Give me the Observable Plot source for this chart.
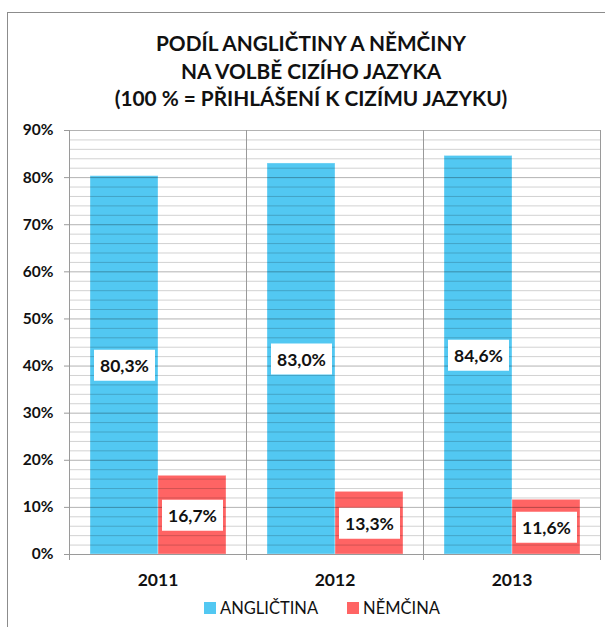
<!DOCTYPE html>
<html>
<head>
<meta charset="utf-8">
<script src="https://cdn.jsdelivr.net/npm/d3@7"></script>
<script src="https://cdn.jsdelivr.net/npm/@observablehq/plot@0.6"></script>
<style>
  html, body { margin: 0; padding: 0; background: #fff; }
  #wrap { position: relative; width: 605px; height: 627px; overflow: hidden; font-family: Lato, "Open Sans", sans-serif; }
  #frame { position: absolute; left: 7px; top: 12px; width: 640px; height: 660px; border: 1px solid #8c8c8c; box-sizing: border-box; }
  #title { position: absolute; left: 7px; top: 29px; width: 608px; text-align: center; font-weight: bold; font-size: 20.8px; line-height: 27.5px; color: #111; }
  #chart { position: absolute; left: 0; top: 118px; }
  #legend { position: absolute; left: 204px; top: 598px; display: flex; font-size: 16.5px; color: #111; }
  .item { display: flex; align-items: center; margin-right: 29px; }
  .sw { width: 12px; height: 12px; margin-right: 4px; }
</style>
</head>
<body>
<div id="wrap">
  <div id="frame"></div>
  <div id="title">PODÍL ANGLIČTINY A NĚMČINY<br>NA VOLBĚ CIZÍHO JAZYKA<br>(100 % = PŘIHLÁŠENÍ K CIZÍMU JAZYKU)</div>
  <div id="chart"></div>
  <div id="legend"></div>
</div>
<script>
const years = ["2011", "2012", "2013"];
const languages = ["ANGLIČTINA", "NĚMČINA"];
const anglictina = [80.3, 83.0, 84.6];
const nemcina = [16.7, 13.3, 11.6];
const yTicks = [0, 10, 20, 30, 40, 50, 60, 70, 80, 90];
const colors = ["#52c8f2", "#ff6464"];

const data = [];
years.forEach((y, i) => {
  data.push({year: y, lang: languages[0], value: anglictina[i]});
  data.push({year: y, lang: languages[1], value: nemcina[i]});
});
const fmt = v => v.toFixed(1).replace(".", ",") + "%";
const minor = d3.range(0, 91, 2).filter(v => v % 10 !== 0);

const boxSymbol = { draw(ctx, size) { ctx.rect(-30.5, -15.5, 61, 31); } };

const plot = Plot.plot({
  width: 605,
  height: 478,
  marginLeft: 68,
  marginRight: 5,
  marginTop: 12,
  marginBottom: 42,
  style: { fontFamily: "Lato, 'Open Sans', sans-serif", color: "#111", background: "transparent" },
  fx: { domain: years, padding: 0, label: null, axis: null },
  x: { domain: languages, paddingInner: 0, paddingOuter: 0.29, axis: null },
  y: { domain: [0, 90], ticks: yTicks, label: null, tickFormat: d => d + "%", axis: null },
  color: { domain: languages, range: colors },
  marks: [
    Plot.barY(data, { fx: "year", x: "lang", y: "value", fill: "lang", stroke: "white", strokeOpacity: 0.35, strokeWidth: 1 }),
    Plot.ruleY(minor, { stroke: "#000", strokeOpacity: 0.18 }),
    Plot.ruleY(yTicks, { stroke: "#000", strokeOpacity: 0.3 }),
    Plot.frame({ anchor: "left", stroke: "#9a9a9a", strokeOpacity: 1, insetBottom: -5 }),
    Plot.frame({ anchor: "right", stroke: "#9a9a9a", strokeOpacity: 1, insetBottom: -5 }),
    Plot.dot(data, { fx: "year", x: "lang", y: d => d.value / 2, symbol: boxSymbol, fill: "white", r: 5 }),
    Plot.text(data, { fx: "year", x: "lang", y: d => d.value / 2, text: d => fmt(d.value), fontSize: 17.5, fontWeight: "bold", fill: "#111", dy: 1 }),
    Plot.axisY({ ticks: yTicks, tickFormat: d => d + "%", tickSize: 5, tickPadding: 11, fontSize: 15.5, fontWeight: "bold", stroke: "#9a9a9a" }),
    Plot.axisFx({ anchor: "bottom", tickSize: 0, tickPadding: 19, fontSize: 17.5, fontWeight: "bold", label: null }),
    Plot.ruleY([0], { stroke: "#9a9a9a" })
  ]
});
document.getElementById("chart").appendChild(plot);

const legend = document.getElementById("legend");
languages.forEach((l, i) => {
  const it = document.createElement("div");
  it.className = "item";
  it.innerHTML = `<span class="sw" style="background:${colors[i]}"></span><span>${l}</span>`;
  legend.appendChild(it);
});
</script>
</body>
</html>
